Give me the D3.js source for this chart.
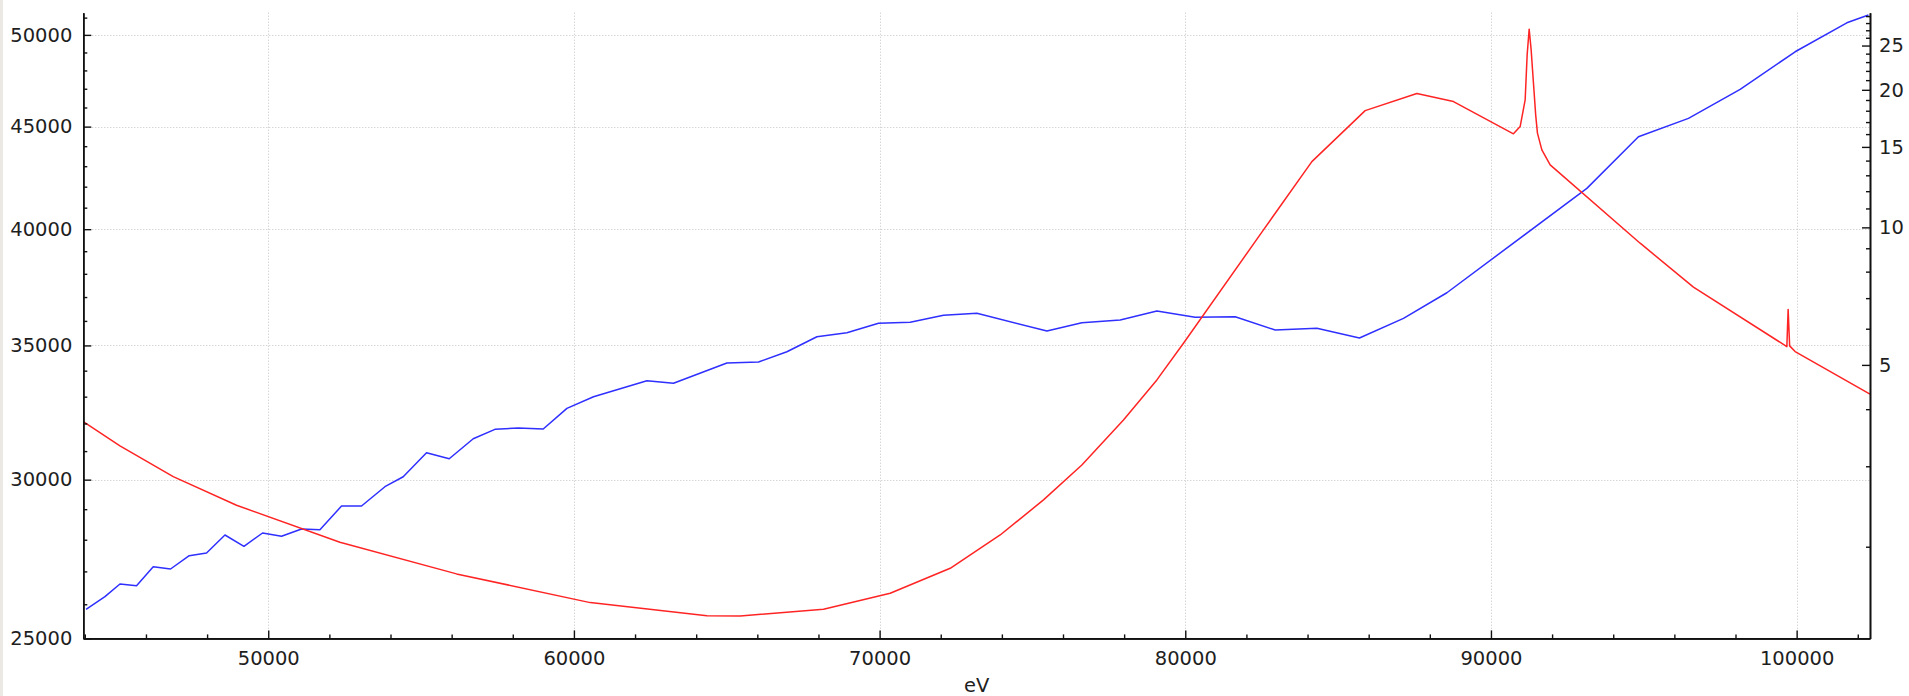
<!DOCTYPE html>
<html>
<head>
<meta charset="utf-8">
<script src="https://cdn.jsdelivr.net/npm/d3@7"></script>
<style>
  html, body { margin: 0; padding: 0; background: #ffffff; }
  svg { display: block; }
  .tick text { font-family: "DejaVu Sans", sans-serif; font-size: 19.5px; fill: #1e1e1e; }
</style>
</head>
<body>
<svg id="chart" width="1909" height="696"></svg>
<script>
// Photon energy grid (eV) and the two measured series
const blueEnergy = [44040, 44658, 45149, 45692, 46238, 46804, 47416, 47982, 48584, 49205,
  49814, 50435, 51089, 51691, 52398, 53052, 53817, 54416, 55178, 55921,
  56706, 57416, 58178, 58996, 59771, 60641, 62388, 63258, 65005, 66039,
  66968, 67949, 68930, 69964, 71001, 72090, 73183, 75473, 76617, 77871,
  79071, 80324, 81633, 82941, 84305, 85699, 87138, 88558, 93137, 94825,
  96461, 98152, 99951, 101642, 102349];
const blueValues = [25850, 26227, 26612, 26560, 27146, 27074, 27491, 27576, 28152, 27789,
  28217, 28110, 28347, 28324, 29105, 29105, 29758, 30101, 30942, 30730,
  31444, 31785, 31833, 31796, 32561, 32998, 33610, 33510, 34300, 34339,
  34748, 35351, 35514, 35900, 35941, 36231, 36314, 35584, 35925, 36036,
  36411, 36148, 36173, 35625, 35694, 35299, 36107, 37184, 41919, 44479,
  45428, 46966, 49039, 50699, 51150];

const redEnergy = [43950, 45149, 46892, 48963, 52345, 56160, 60533, 64351, 65440, 68165,
  70347, 72310, 73945, 75362, 76617, 77978, 79071, 79941, 82558, 84141,
  85885, 87576, 88774, 90736, 90955, 91119, 91184, 91250, 91315, 91391,
  91463, 91521, 91665, 91937, 94881, 96624, 99680, 99722, 99771, 99951,
  102400];
const redValues = [3.757, 3.324, 2.847, 2.465, 2.046, 1.744, 1.509, 1.413, 1.411, 1.459,
  1.582, 1.794, 2.122, 2.532, 3.020, 3.789, 4.636, 5.578, 9.874, 13.93,
  18.01, 19.63, 18.85, 16.02, 16.62, 19.02, 23.85, 27.15, 24.46, 20.68,
  17.63, 16.08, 14.78, 13.70, 9.233, 7.397, 5.483, 6.614, 5.503, 5.347,
  4.314];

// Axis tick labels
const xTicks = [50000, 60000, 70000, 80000, 90000, 100000];
const leftTicks = [25000, 30000, 35000, 40000, 45000, 50000];
const rightTicks = [5, 10, 15, 20, 25];
const xLabel = "eV";

const plot = { left: 83.3, right: 1870, top: 12.7, bottom: 638.4 };

const x = d3.scaleLinear().domain([43950, 102400]).range([plot.left, plot.right]);
const yL = d3.scaleLog().domain([25000, 51290]).range([plot.bottom, plot.top]);
const yR = d3.scaleLog().domain([1.26, 29.5]).range([plot.bottom, plot.top]);

const svg = d3.select("#chart");

// thin frame strip on the left edge of the window
svg.append("rect").attr("x", 0).attr("y", 0).attr("width", 3).attr("height", 696).attr("fill", "#ece8e4");

// dotted grid
const grid = svg.append("g").attr("stroke", "#c4c4c4").attr("stroke-width", 1).attr("stroke-dasharray", "1,2");
grid.selectAll("line.h").data(leftTicks).join("line")
  .attr("x1", plot.left).attr("x2", plot.right)
  .attr("y1", d => Math.round(yL(d)) + 0.5).attr("y2", d => Math.round(yL(d)) + 0.5);
grid.selectAll("line.v").data(xTicks).join("line")
  .attr("y1", plot.top).attr("y2", plot.bottom)
  .attr("x1", d => Math.round(x(d)) + 0.5).attr("x2", d => Math.round(x(d)) + 0.5);

// series
const line = (ys) => d3.line().x(d => x(d[0])).y(d => ys(d[1]));
svg.append("path")
  .datum(blueEnergy.map((e, i) => [e, blueValues[i]]))
  .attr("fill", "none").attr("stroke", "#2f2fff").attr("stroke-width", 1.5)
  .attr("stroke-linejoin", "round")
  .attr("d", line(yL));
svg.append("path")
  .datum(redEnergy.map((e, i) => [e, redValues[i]]))
  .attr("fill", "none").attr("stroke", "#ff2424").attr("stroke-width", 1.5)
  .attr("stroke-linejoin", "round")
  .attr("d", line(yR));

// axes
function styleAxis(g) {
  g.selectAll(".domain").attr("stroke", "#111").attr("stroke-width", 1.6);
  g.selectAll(".tick line").attr("stroke", "#111").attr("stroke-width", 1.4);
}
const minorX = d3.range(44000, 102401, 2000).filter(v => v % 10000 !== 0);
const minorL = d3.range(26000, 51290, 1000).filter(v => v % 5000 !== 0);
const minorR = d3.range(2, 30, 1).filter(v => v % 5 !== 0 && v <= 29.5);

// bottom
svg.append("g").attr("transform", `translate(0,${plot.bottom})`)
  .call(d3.axisBottom(x).tickValues(minorX).tickSize(-4).tickSizeOuter(0).tickFormat(""))
  .call(styleAxis);
svg.append("g").attr("transform", `translate(0,${plot.bottom})`)
  .call(d3.axisBottom(x).tickValues(xTicks).tickSize(-8).tickSizeOuter(0).tickPadding(13).tickFormat(d3.format("d")))
  .call(styleAxis);

// left
svg.append("g").attr("transform", `translate(${plot.left},0)`)
  .call(d3.axisLeft(yL).tickValues(minorL).tickSize(-4).tickSizeOuter(0).tickFormat(""))
  .call(styleAxis);
svg.append("g").attr("transform", `translate(${plot.left},0)`)
  .call(d3.axisLeft(yL).tickValues(leftTicks).tickSize(-8).tickSizeOuter(0).tickPadding(11).tickFormat(d3.format("d")))
  .call(styleAxis);

// right
svg.append("g").attr("transform", `translate(${plot.right},0)`)
  .call(d3.axisRight(yR).tickValues(minorR).tickSize(-4).tickSizeOuter(0).tickFormat(""))
  .call(styleAxis);
svg.append("g").attr("transform", `translate(${plot.right},0)`)
  .call(d3.axisRight(yR).tickValues(rightTicks).tickSize(-8).tickSizeOuter(0).tickPadding(9).tickFormat(d3.format("d")))
  .call(styleAxis);

// axis title
svg.append("text")
  .attr("x", (plot.left + plot.right) / 2).attr("y", 692)
  .attr("text-anchor", "middle")
  .attr("font-family", "DejaVu Sans, sans-serif").attr("font-size", "19.5px").attr("fill", "#1e1e1e")
  .text(xLabel);
</script>
</body>
</html>
